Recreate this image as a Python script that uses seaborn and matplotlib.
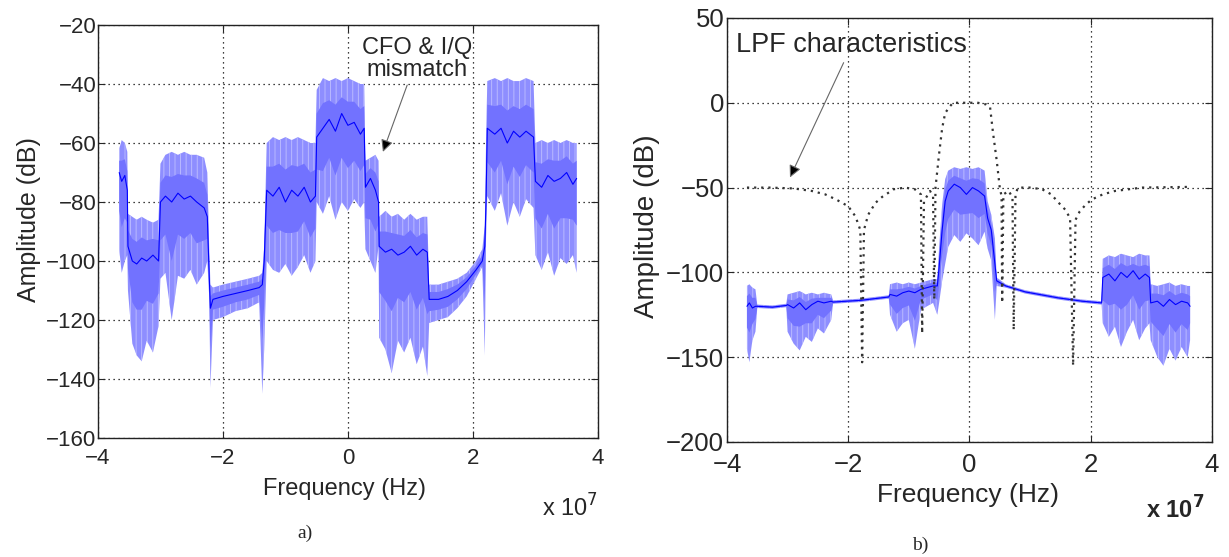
import numpy as np
import matplotlib
matplotlib.use("Agg")
import matplotlib.pyplot as plt
import seaborn as sns

# ---------------- data (frequency in units of 1e7 Hz, amplitude in dB) ----------------
# panel a) received spectrum: upper envelope, centre trace, lower envelope
freq_a = [-3.66, -3.62, -3.57, -3.53,
          -3.52, -3.45, -3.38, -3.30, -3.22, -3.12, -3.03,
          -3.00, -2.92, -2.82, -2.72, -2.62, -2.52, -2.42, -2.30, -2.25,
          -2.22, -2.20,
          -2.16, -2.00, -1.80, -1.60, -1.42, -1.37, -1.34,
          -1.30, -1.20, -1.10, -1.00, -0.90, -0.80, -0.70, -0.60, -0.52,
          -0.50, -0.40, -0.30, -0.20, -0.10, 0.00, 0.10, 0.20, 0.26,
          0.28, 0.36, 0.44, 0.49,
          0.50, 0.60, 0.70, 0.80, 0.90, 1.00, 1.10, 1.20, 1.27,
          1.30, 1.45, 1.60, 1.75, 1.90, 2.05, 2.15,
          2.19, 2.21,
          2.23, 2.35, 2.45, 2.55, 2.65, 2.75, 2.85, 2.97,
          3.00, 3.10, 3.20, 3.30, 3.40, 3.50, 3.60, 3.66]
top_a = [-62, -59, -60, -63,
         -84, -85, -86, -85, -86, -87, -86,
         -67, -64, -63, -64, -63, -64, -64, -65, -70,
         -95, -108,
         -109, -108, -107, -106, -105, -104, -95,
         -60, -58, -59, -58, -59, -58, -59, -60, -60,
         -42, -38, -39, -38, -39, -38, -39, -40, -40,
         -66, -65, -64, -66,
         -85, -83, -85, -84, -86, -84, -86, -85, -85,
         -108, -108, -107, -106, -104, -100, -96,
         -88, -60,
         -39, -38, -39, -38, -39, -39, -38, -39,
         -60, -59, -60, -59, -60, -59, -60, -60]
mid_a = [-70, -73, -71, -76,
         -95, -100, -101, -99, -100, -98, -100,
         -80, -78, -80, -77, -79, -78, -80, -82, -85,
         -105, -116,
         -113, -112, -111, -110, -109, -108, -100,
         -76, -78, -75, -80, -76, -78, -75, -80, -78,
         -58, -55, -52, -56, -50, -54, -53, -57, -55,
         -75, -72, -76, -80,
         -95, -97, -96, -98, -97, -95, -98, -96, -97,
         -113, -113, -112, -110, -107, -103, -100,
         -95, -80,
         -55, -57, -55, -60, -56, -58, -56, -58,
         -73, -75, -71, -73, -72, -70, -74, -72]
bot_a = [-96, -104, -100, -98,
         -110, -128, -132, -134, -127, -131, -122,
         -106, -104, -120, -105, -106, -103, -108, -104, -100,
         -112, -143,
         -120, -119, -117, -116, -114, -145, -130,
         -100, -103, -104, -101, -105, -102, -98, -104, -100,
         -80, -84, -78, -86, -80, -83, -79, -82, -80,
         -96, -100, -104, -95,
         -126, -130, -138, -127, -131, -126, -135, -129, -139,
         -121, -120, -119, -116, -112, -106, -102,
         -132, -92,
         -78, -83, -77, -88, -80, -85, -79, -82,
         -98, -103, -97, -105, -99, -101, -98, -104]

# panel b) spectrum after filtering
freq_b = [-3.67, -3.63, -3.58, -3.53,
          -3.50, -3.25, -3.02,
          -3.00, -2.90, -2.80, -2.70, -2.60, -2.50, -2.40, -2.28,
          -2.25, -1.80, -1.33,
          -1.31, -1.20, -1.10, -1.00, -0.90, -0.80, -0.70, -0.60, -0.53,
          -0.50, -0.45, -0.40,
          -0.35, -0.25, -0.15, -0.05, 0.05, 0.15, 0.25,
          0.30, 0.36, 0.42, 0.45,
          0.60, 0.92, 1.46, 1.86, 2.18,
          2.20, 2.30, 2.40, 2.50, 2.60, 2.70, 2.80, 2.90, 2.97,
          2.99, 3.10, 3.20, 3.30, 3.40, 3.50, 3.60, 3.64]
top_b = [-108, -107, -109, -110,
         -119, -119.5, -118.5,
         -113, -112, -111, -113, -112, -113, -112, -113,
         -116.5, -115.5, -113.5,
         -107, -106, -107, -106, -107, -106, -105, -104, -104,
         -85, -60, -45,
         -40, -38, -39, -38, -39, -38, -40,
         -58, -66, -80, -103,
         -107, -110.5, -114, -116, -117,
         -92, -90, -91, -89, -90, -91, -89, -90, -90,
         -107, -108, -107, -106, -108, -107, -108, -108]
mid_b = [-120, -118, -121, -120,
         -120, -120.5, -119.5,
         -119, -121, -118, -122, -119, -117, -118, -117,
         -117.5, -116.5, -114.5,
         -113, -114, -112, -111, -112, -110, -109, -108, -108,
         -97, -75, -58,
         -52, -48, -50, -54, -50, -52, -55,
         -68, -75, -95, -105,
         -108, -111.5, -115, -117, -118,
         -103, -101, -105, -100, -103, -99, -104, -101, -103,
         -118, -117, -120, -116, -119, -117, -118, -120]
bot_b = [-145, -153, -140, -135,
         -121, -121.5, -120.5,
         -135, -142, -146, -138, -141, -133, -136, -128,
         -118.5, -117.5, -115.5,
         -125, -135, -130, -128, -145, -122, -120, -118, -125,
         -118, -105, -95,
         -85, -78, -82, -77, -80, -84, -76,
         -86, -93, -128, -108,
         -109, -112.5, -116, -118, -119,
         -130, -138, -132, -144, -135, -128, -140, -133, -130,
         -140, -150, -155, -145, -152, -144, -150, -140]

# LPF characteristics (dotted curve)
freq_lpf = [-3.67, -3.30, -2.90, -2.60, -2.38, -2.20, -2.00, -1.88, -1.80, -1.77, -1.74,
            -1.67, -1.55, -1.44, -1.25, -1.06, -0.90, -0.80, -0.78, -0.75, -0.65, -0.60,
            -0.58, -0.56, -0.50, -0.45, -0.40, -0.32, -0.27, -0.10, 0.14, 0.28, 0.34,
            0.39, 0.45, 0.50, 0.53, 0.54, 0.56, 0.65, 0.71, 0.73, 0.76, 0.80, 1.00,
            1.20, 1.35, 1.46, 1.58, 1.66, 1.71, 1.75, 1.82, 1.92, 2.02, 2.20, 2.40,
            2.85, 3.61]
amp_lpf = [-50, -50, -50.5, -52, -54, -57, -61, -67, -75, -153, -75,
           -66, -59, -55.5, -51, -50, -51, -54, -136, -58, -52, -55,
           -116, -50, -30, -15, -6, -2, 0, 0, 0, -1, -2.5,
           -18, -34, -50, -55, -118, -54, -52, -56, -134, -54, -50, -50,
           -51, -54, -58.5, -63, -68, -155, -69, -64, -60, -57, -54, -52,
           -50, -49.6]

xticks = [-4, -2, 0, 2, 4]
yticks_a = [-160, -140, -120, -100, -80, -60, -40, -20]
yticks_b = [-200, -150, -100, -50, 0, 50]

# ---------------- style ----------------
sns.set_style("ticks")
plt.rcParams["font.family"] = ["Liberation Sans", "DejaVu Sans"]
plt.rcParams["hatch.linewidth"] = 0.6

fig = plt.figure(figsize=(12.29, 5.57), dpi=100)
ax_a = fig.add_axes([0.0797, 0.2136, 0.4068, 0.7415])
ax_b = fig.add_axes([0.5915, 0.2065, 0.3946, 0.7612])


def draw_spectrum(ax, f, top, mid, bot):
    f = np.array(f)
    top = np.array(top)
    mid = np.array(mid)
    bot = np.array(bot)
    ax.fill_between(f, top, bot, facecolor="#8e8eff", edgecolor="#c0c0ff",
                    hatch="|||", linewidth=0, zorder=2)
    ax.fill_between(f, (top + mid) / 2, (mid + bot) / 2, facecolor="#7272ff",
                    edgecolor="none", linewidth=0, zorder=3)
    sns.lineplot(x=f, y=mid, ax=ax, color="#0000ff", lw=0.8,
                 estimator=None, sort=False, zorder=4)


def style_axes(ax, yticks, fs, xpad, ypad):
    ax.set_xlim(-4, 4)
    ax.set_ylim(yticks[0], yticks[-1])
    ax.set_xticks(xticks)
    ax.set_yticks(yticks)
    ax.set_xticklabels([str(t).replace("-", "\u2212") for t in xticks])
    ax.set_yticklabels([str(t).replace("-", "\u2212") for t in yticks])
    ax.grid(True, linestyle=(0, (1, 3)), color="black", linewidth=0.9, zorder=1)
    ax.tick_params(direction="in", top=True, right=True, length=5, width=0.8,
                   labelsize=fs)
    ax.tick_params(axis="x", pad=xpad)
    ax.tick_params(axis="y", pad=ypad)
    for s in ax.spines.values():
        s.set_color("#222222")
        s.set_linewidth(1.0)
    ax.set_axisbelow(True)


# ---------------- panel a ----------------
draw_spectrum(ax_a, freq_a, top_a, mid_a, bot_a)
style_axes(ax_a, yticks_a, 16, 7, 1)
ax_a.set_xlabel("Frequency (Hz)", fontsize=17)
ax_a.set_ylabel("Amplitude (dB)", fontsize=18)
ax_a.xaxis.set_label_coords(0.494, -0.097)
ax_a.yaxis.set_label_coords(-0.114, 0.53)
ax_a.text(0.944, -0.17, r"x 10$^{7}$", transform=ax_a.transAxes,
          ha="center", va="center", fontsize=17)
ax_a.annotate("CFO & I/Q\nmismatch", xy=(0.56, -63), xytext=(1.1, -31.5),
              ha="center", va="center", fontsize=17, multialignment="center",
              linespacing=0.95,
              arrowprops=dict(arrowstyle="-|>", ec="#666666", fc="black",
                              lw=0.8, mutation_scale=18, shrinkA=1, shrinkB=0))
fig.text(305 / 1229, 1 - 533 / 557, "a)", family="Liberation Serif",
         fontsize=14, ha="center", va="center")

# ---------------- panel b ----------------
draw_spectrum(ax_b, freq_b, top_b, mid_b, bot_b)
sns.lineplot(x=freq_lpf, y=amp_lpf, ax=ax_b, color="#333333", lw=1.6,
             linestyle=(0, (1, 2.2)), estimator=None, sort=False, zorder=5)
style_axes(ax_b, yticks_b, 18.5, 8, 2)
ax_b.set_xlabel("Frequency (Hz)", fontsize=19)
ax_b.set_ylabel("Amplitude (dB)", fontsize=20)
ax_b.xaxis.set_label_coords(0.497, -0.097)
ax_b.yaxis.set_label_coords(-0.138, 0.51)
ax_b.text(0.925, -0.16, r"x 10$^{\mathbf{7}}$", transform=ax_b.transAxes,
          ha="center", va="center", fontsize=17, fontweight="bold")
ax_b.annotate("LPF characteristics", xy=(-2.96, -44), xytext=(-1.94, 34),
              ha="center", va="center", fontsize=19.5,
              arrowprops=dict(arrowstyle="-|>", ec="#666666", fc="black",
                              lw=0.8, mutation_scale=18, shrinkA=1, shrinkB=0))
fig.text(920 / 1229, 1 - 545 / 557, "b)", family="Liberation Serif",
         fontsize=14, ha="center", va="center")

fig.savefig("out.png", dpi=100)
